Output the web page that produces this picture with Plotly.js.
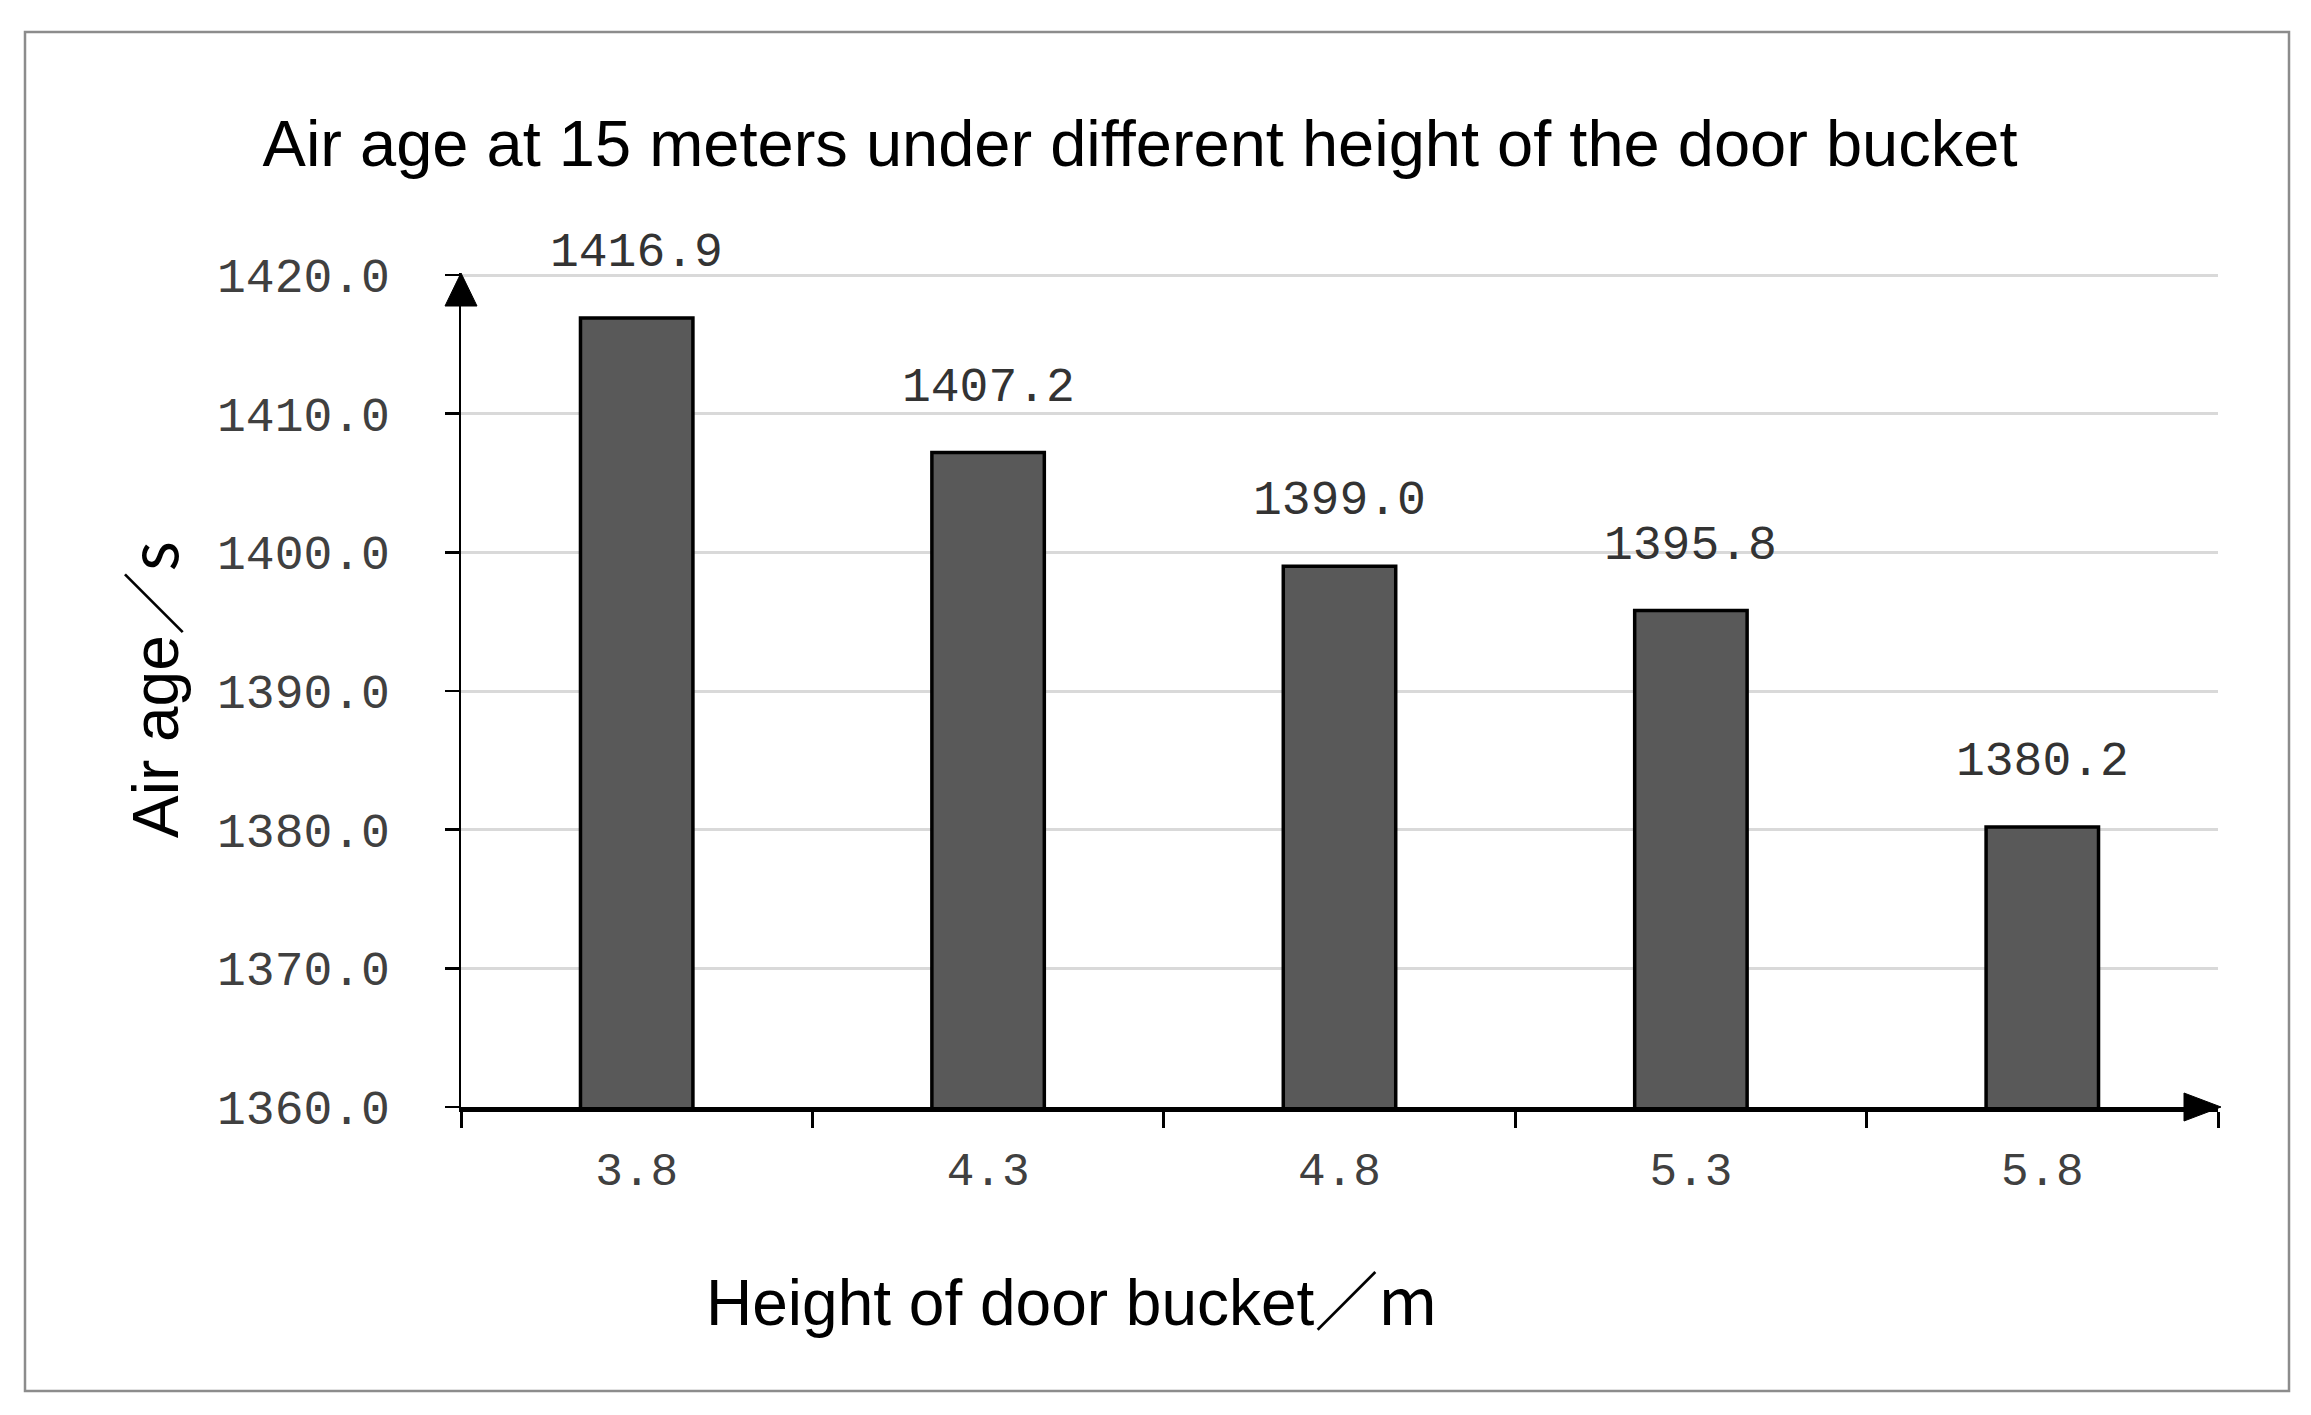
<!DOCTYPE html>
<html>
<head>
<meta charset="utf-8">
<script src="https://cdn.plot.ly/plotly-3.0.1.min.js"></script>
<style>
  html, body { margin: 0; padding: 0; background: #fff; }
  #chart { width: 2311px; height: 1415px; }
</style>
</head>
<body>
<div id="chart"></div>
<script>
// data
const heights = ["3.8", "4.3", "4.8", "5.3", "5.8"];
const airAge = [1416.9, 1407.2, 1399.0, 1395.8, 1380.2];
const yTicks = [1360, 1370, 1380, 1390, 1400, 1410, 1420];

const W = 2311, H = 1415;
const m = { l: 461, r: 93, t: 273, b: 308 };
const pw = W - m.l - m.r, ph = H - m.t - m.b;
// page pixel -> paper fraction
const px = x => (x - m.l) / pw;
const py = y => (H - m.b - y) / ph;

const monoFont = "Liberation Mono, DejaVu Sans Mono, monospace";
const sansFont = "Liberation Sans, Arial, sans-serif";
const cjk = "font-family:'Noto Sans CJK JP'";

const trace = {
  type: "bar",
  x: heights,
  y: airAge,
  marker: { color: "#595959", line: { color: "#000", width: 3.5 } },
  hoverinfo: "x+y"
};

// value labels above the bars (x as category index)
const valueLabels = heights.map((h, i) => ({
  x: i, y: airAge[i], xref: "x", yref: "y",
  text: airAge[i].toFixed(1),
  showarrow: false, yanchor: "bottom", yshift: 36,
  font: { family: monoFont, size: 48, color: "#333" }
}));

const layout = {
  width: W, height: H,
  margin: m,
  paper_bgcolor: "#fff", plot_bgcolor: "#fff",
  showlegend: false,
  bargap: 0.68,
  title: {
    text: "Air age at 15 meters under different height of the door bucket",
    font: { family: sansFont, size: 65, color: "#000" },
    xref: "container", x: 1140 / W, xanchor: "center",
    yref: "container", y: 1 - 143 / H, yanchor: "middle"
  },
  xaxis: {
    type: "category",
    range: [-0.5, 4.5],
    showline: true, linecolor: "#000", linewidth: 4.5,
    ticks: "outside", tickson: "boundaries", ticklen: 16, tickwidth: 3, tickcolor: "#000",
    tickfont: { family: monoFont, size: 46, color: "#404040" },
    ticklabelstandoff: 18,
    showgrid: false, fixedrange: true
  },
  yaxis: {
    range: [1360, 1420.15],
    tickvals: yTicks, tickformat: ".1f",
    showline: true, linecolor: "#000", linewidth: 2.5,
    ticks: "outside", ticklen: 14, tickwidth: 2.5, tickcolor: "#000",
    tickfont: { family: monoFont, size: 48, color: "#404040" },
    ticklabelstandoff: 45,
    showgrid: true, gridcolor: "#d9d9d9", gridwidth: 3,
    zeroline: false, fixedrange: true
  },
  annotations: valueLabels.concat([
    {
      text: "Height of door bucket<span style=\"" + cjk + "\">／m</span>",
      xref: "paper", yref: "paper", x: px(1072), y: py(1297),
      xanchor: "center", yanchor: "middle", showarrow: false,
      font: { family: sansFont, size: 64, color: "#000" }
    },
    {
      text: "Air age<span style=\"" + cjk + "\">／s</span>",
      xref: "paper", yref: "paper", x: px(150), y: py(690),
      xanchor: "center", yanchor: "middle", showarrow: false, textangle: -90,
      font: { family: sansFont, size: 64, color: "#000" }
    }
  ]),
  shapes: [
    // outer frame
    {
      type: "rect", xref: "paper", yref: "paper",
      x0: px(25), x1: px(2289), y0: py(1391), y1: py(32),
      line: { color: "#8c8c8c", width: 2.5 }, layer: "below"
    },
    // arrow on the y axis
    {
      type: "path", xref: "paper", yref: "paper",
      xsizemode: "pixel", xanchor: 0, ysizemode: "pixel", yanchor: 1,
      path: "M-16,-33 L0,0 L16,-33 Z",
      fillcolor: "#000", line: { color: "#000", width: 1 }
    },
    // arrow on the x axis
    {
      type: "path", xref: "paper", yref: "paper",
      xsizemode: "pixel", xanchor: 1, ysizemode: "pixel", yanchor: 0,
      path: "M-34,14 L3,0 L-34,-14 Z",
      fillcolor: "#000", line: { color: "#000", width: 1 }
    }
  ]
};

Plotly.newPlot("chart", [trace], layout, { displayModeBar: false, staticPlot: true });
</script>
</body>
</html>
